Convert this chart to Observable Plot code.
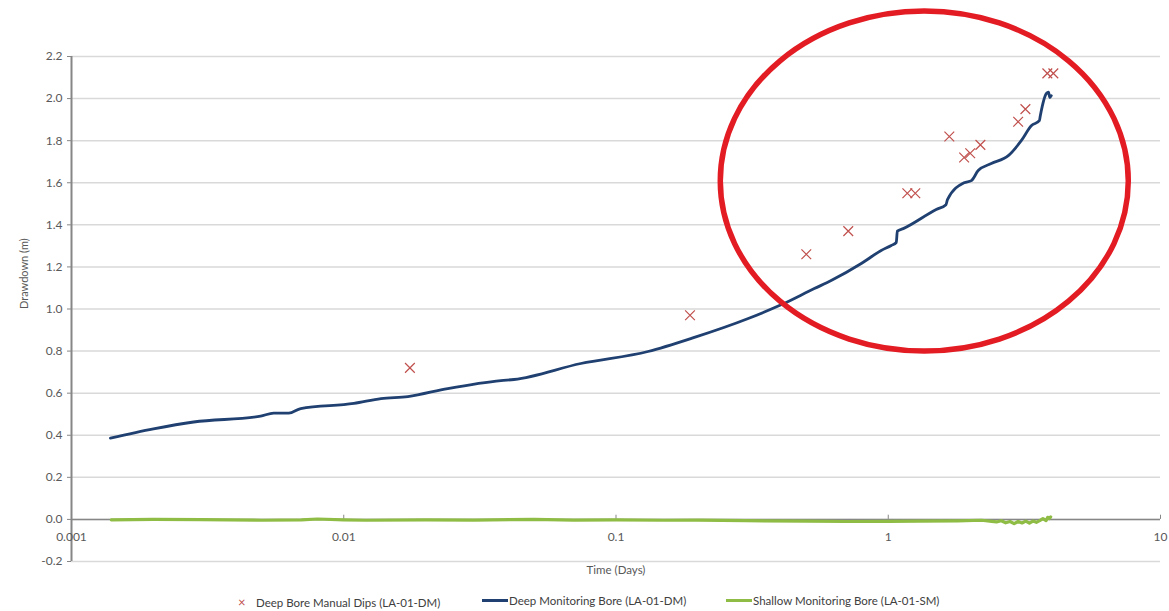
<!DOCTYPE html>
<html>
<head>
<meta charset="utf-8">
<script src="https://cdn.jsdelivr.net/npm/d3@7"></script>
<script src="https://cdn.jsdelivr.net/npm/@observablehq/plot@0.6"></script>
<style>
  html, body { margin: 0; padding: 0; background: #fff; }
  body { width: 1169px; height: 611px; overflow: hidden; font-family: Lato, "Open Sans", sans-serif; }
  #chart svg { display: block; overflow: visible; }
  #legend { position: relative; height: 21px; font-size: 11.5px; color: #404040; }
  .item { position: absolute; top: 4px; display: flex; align-items: center; white-space: nowrap; }
  .sw { display: inline-block; }
</style>
</head>
<body>
<div id="chart"></div>
<div id="legend"></div>
<script>
// ---- data ----
const dipTime = [0.0175, 0.187, 0.50, 0.713, 1.175, 1.257, 1.676, 1.90, 2.0, 2.18, 3.0, 3.19, 3.84, 4.04];
const dipDrawdown = [0.72, 0.97, 1.26, 1.37, 1.55, 1.55, 1.82, 1.72, 1.74, 1.78, 1.89, 1.95, 2.12, 2.12];

const deepTime = [0.00139, 0.0020, 0.00281, 0.00495, 0.00553, 0.00628, 0.00695, 0.0109, 0.0137, 0.0172, 0.0241, 0.0378, 0.0422, 0.0743, 0.131, 0.194, 0.306, 0.404, 0.535, 0.617, 0.796, 0.942, 1.026, 1.07, 1.08, 1.135, 1.50, 1.63, 1.65, 1.90, 2.02, 2.14, 2.39, 2.76, 3.08, 3.36, 3.59, 3.62, 3.81, 3.88, 3.92, 3.97];
const deepDrawdown = [0.386, 0.43, 0.463, 0.491, 0.505, 0.505, 0.527, 0.551, 0.574, 0.584, 0.622, 0.66, 0.665, 0.741, 0.798, 0.865, 0.955, 1.02, 1.097, 1.135, 1.216, 1.278, 1.302, 1.316, 1.37, 1.382, 1.473, 1.496, 1.52, 1.60, 1.61, 1.658, 1.691, 1.729, 1.80, 1.872, 1.895, 1.92, 2.024, 2.03, 2.005, 2.014];

const shallowTime = [0.0014, 0.002, 0.003, 0.005, 0.007, 0.008, 0.01, 0.012, 0.02, 0.03, 0.05, 0.07, 0.1, 0.15, 0.2, 0.3, 0.5, 0.7, 1.0, 1.3, 1.8, 2.2, 2.4, 2.5, 2.6, 2.7, 2.8, 2.9, 3.0, 3.1, 3.2, 3.3, 3.4, 3.5, 3.6, 3.7, 3.8, 3.85, 3.9, 3.95];
const shallowDrawdown = [-0.002, 0.0, -0.001, -0.004, -0.002, 0.002, -0.002, -0.004, -0.002, -0.003, 0.0, -0.003, -0.002, -0.004, -0.003, -0.006, -0.008, -0.01, -0.009, -0.008, -0.007, -0.004, -0.009, -0.012, -0.006, -0.016, -0.01, -0.02, -0.01, -0.017, -0.008, -0.018, -0.008, -0.014, -0.006, 0.004, -0.006, 0.01, 0.004, 0.012];

const xTicks = [0.001, 0.01, 0.1, 1, 10];
const xTickLabels = ["0.001", "0.01", "0.1", "1", "10"];
const yTicks = [-0.2, 0, 0.2, 0.4, 0.6, 0.8, 1.0, 1.2, 1.4, 1.6, 1.8, 2.0, 2.2];

const seriesNames = ["Deep Bore Manual Dips (LA-01-DM)", "Deep Monitoring Bore (LA-01-DM)", "Shallow Monitoring Bore (LA-01-SM)"];
const seriesColors = ["#c0504d", "#1f4070", "#8fbc45"];

// annotation ellipse (centre in data units)
const ringCenter = {t: 1.362, d: 1.606};

// ---- build tables ----
const dips = dipTime.map((t, i) => ({t, d: dipDrawdown[i]}));
const deep = deepTime.map((t, i) => ({t, d: deepDrawdown[i]}));
const shallow = shallowTime.map((t, i) => ({t, d: shallowDrawdown[i]}));

const textColor = "#595959";
const font = "Lato, 'Open Sans', sans-serif";

const plot = Plot.plot({
  width: 1169,
  height: 590,
  marginLeft: 71,
  marginRight: 9,
  marginTop: 56,
  marginBottom: 29,
  style: {fontFamily: font, fontSize: "11.5px", color: textColor, background: "transparent", overflow: "visible"},
  x: {type: "log", domain: [0.001, 10], axis: null},
  y: {domain: [-0.2, 2.2], axis: null},
  marks: [
    Plot.gridY(yTicks, {stroke: "#d9d9d9", strokeOpacity: 1, strokeWidth: 1.5}),
    Plot.axisY(yTicks, {tickFormat: d => d.toFixed(1), tickSize: 4, tickPadding: 5, stroke: "#868686", fill: textColor, label: null, fontSize: 12}),
    Plot.ruleX([0.001], {stroke: "#868686", strokeWidth: 2}),
    Plot.ruleY([0], {stroke: "#868686", strokeWidth: 1.5}),
    Plot.ruleX(xTicks, {x: d => d, y1: 0, y2: 0.02, stroke: "#868686", strokeWidth: 1}),
    Plot.text(xTicks, {x: d => d, y: 0, dy: 18, text: (d, i) => xTickLabels[i], fill: textColor, fontSize: 12}),
    Plot.text(["Time (Days)"], {frameAnchor: "bottom", dy: 12, fill: textColor, fontSize: 11.5}),
    Plot.text(["Drawdown (m)"], {frameAnchor: "left", dx: -47, rotate: -90, fill: textColor, fontSize: 11}),
    Plot.line(shallow, {x: "t", y: "d", stroke: seriesColors[2], strokeWidth: 3.2, strokeLinejoin: "round"}),
    Plot.line(deep, {x: "t", y: "d", stroke: seriesColors[1], strokeWidth: 2.8, strokeLinejoin: "round", curve: "monotone-x"}),
    Plot.dot(dips, {x: "t", y: "d", symbol: "times", r: 4.5, stroke: seriesColors[0], strokeWidth: 1.2})
  ]
});

// red annotation ring
const sx = plot.scale("x"), sy = plot.scale("y");
d3.select(plot).append("ellipse")
  .attr("cx", sx.apply(ringCenter.t))
  .attr("cy", sy.apply(ringCenter.d))
  .attr("rx", 204)
  .attr("ry", 170)
  .attr("fill", "none")
  .attr("stroke", "#e31b23")
  .attr("stroke-width", 5.5);

document.getElementById("chart").append(plot);

// legend
const legend = document.getElementById("legend");
const positions = [238, 482, 726];
seriesNames.forEach((name, i) => {
  const item = document.createElement("div");
  item.className = "item";
  item.style.left = positions[i] + "px";
  let sw;
  if (i === 0) {
    sw = `<span class="sw" style="color:${seriesColors[0]};font-size:13px;width:18px;">×</span>`;
  } else {
    sw = `<span class="sw" style="width:26px;height:3px;background:${seriesColors[i]};margin-right:1px;"></span>`;
  }
  item.innerHTML = sw + `<span>${name}</span>`;
  legend.append(item);
});
</script>
</body>
</html>
